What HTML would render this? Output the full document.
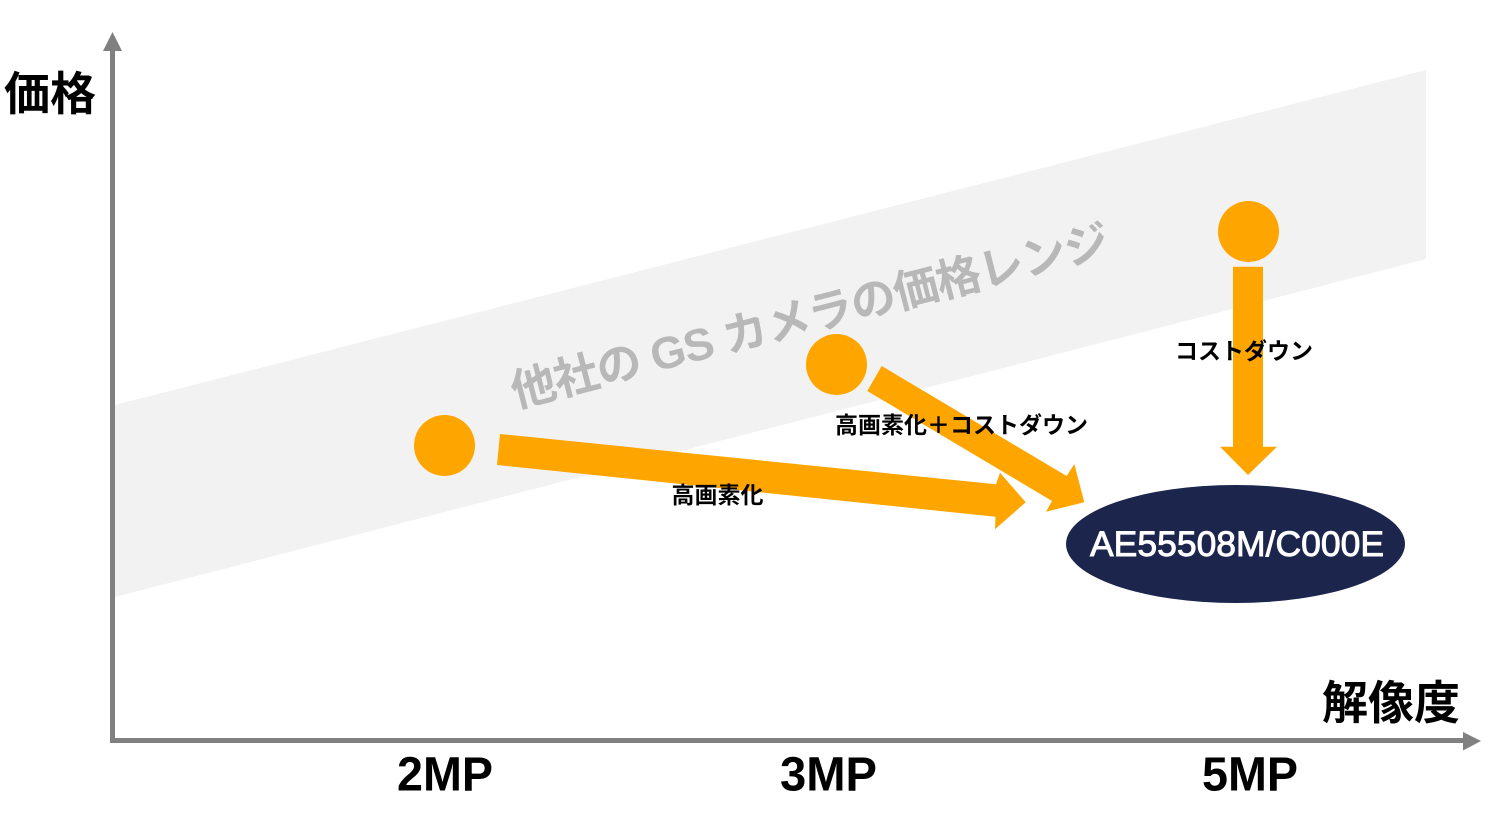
<!DOCTYPE html>
<html>
<head>
<meta charset="utf-8">
<style>
  html, body { margin:0; padding:0; background:#ffffff; }
  body { width:1500px; height:830px; overflow:hidden; }
  svg { display:block; }
  .jp { font-family: "Liberation Sans", "Noto Sans CJK JP", sans-serif; }
</style>
</head>
<body>
<svg width="1500" height="830" viewBox="0 0 1500 830" xmlns="http://www.w3.org/2000/svg">
  <!-- price range band -->
  <polygon points="115,405 1426,70 1426,259 115,597" fill="#f2f2f2"/>

  <!-- band label -->
  <text class="jp" x="814" y="331" text-anchor="middle" font-size="45" font-weight="700" fill="#b8b8b8"
        transform="rotate(-14.4 814 331)" textLength="616" lengthAdjust="spacing">他社の GS カメラの価格レンジ</text>

  <!-- axes -->
  <rect x="110" y="48" width="5" height="695" fill="#808080"/>
  <polygon points="112.5,32 103,51 122,51" fill="#808080"/>
  <rect x="110" y="738" width="1356" height="5" fill="#808080"/>
  <polygon points="1481,741 1463,732 1463,750.5" fill="#808080"/>

  <!-- orange circles -->
  <circle cx="444.5" cy="445.5" r="30.5" fill="#ffa500"/>
  <circle cx="836.5" cy="364.5" r="30.5" fill="#ffa500"/>
  <circle cx="1248.5" cy="231.5" r="30.5" fill="#ffa500"/>

  <!-- arrow 1: 高画素化 -->
  <polygon points="500,434 996,484.3 1000,472.7 1025.7,502.3 995,529.3 995.5,516.7 497,465" fill="#ffa500"/>
  <!-- arrow 2: 高画素化＋コストダウン -->
  <polygon points="881.7,366 1066.7,476 1074.3,464 1084.3,502.3 1046,511.7 1052,501 867.3,391" fill="#ffa500"/>
  <!-- arrow 3: コストダウン -->
  <polygon points="1233,266.7 1263,266.7 1263,446.7 1277,446.7 1248,475 1220,446.7 1233,446.7" fill="#ffa500"/>

  <!-- target ellipse -->
  <ellipse cx="1235.5" cy="544" rx="169.5" ry="59" fill="#1c254c"/>
  <text x="1237" y="556" text-anchor="middle" font-family="Liberation Sans, sans-serif" font-size="35"
        fill="#ffffff" stroke="#ffffff" stroke-width="0.9" textLength="294" lengthAdjust="spacingAndGlyphs">AE55508M/C000E</text>

  <!-- arrow labels -->
  <text class="jp" x="717.5" y="503" text-anchor="middle" font-size="23" font-weight="700" fill="#000">高画素化</text>
  <text class="jp" x="961.5" y="433" text-anchor="middle" font-size="23" font-weight="700" fill="#000">高画素化＋コストダウン</text>
  <text class="jp" x="1244" y="359" text-anchor="middle" font-size="23" font-weight="700" fill="#000">コストダウン</text>

  <!-- axis titles -->
  <text class="jp" x="4" y="110" font-size="46" font-weight="700" fill="#000">価格</text>
  <text class="jp" x="1322" y="719" font-size="46" font-weight="700" fill="#000">解像度</text>

  <!-- x tick labels -->
  <text x="445" y="790.5" text-anchor="middle" font-family="Liberation Sans, sans-serif" font-size="48" font-weight="700" fill="#000" textLength="96" lengthAdjust="spacingAndGlyphs">2MP</text>
  <text x="828.5" y="790.5" text-anchor="middle" font-family="Liberation Sans, sans-serif" font-size="48" font-weight="700" fill="#000" textLength="97" lengthAdjust="spacingAndGlyphs">3MP</text>
  <text x="1250" y="790.5" text-anchor="middle" font-family="Liberation Sans, sans-serif" font-size="48" font-weight="700" fill="#000" textLength="96" lengthAdjust="spacingAndGlyphs">5MP</text>
</svg>
</body>
</html>
